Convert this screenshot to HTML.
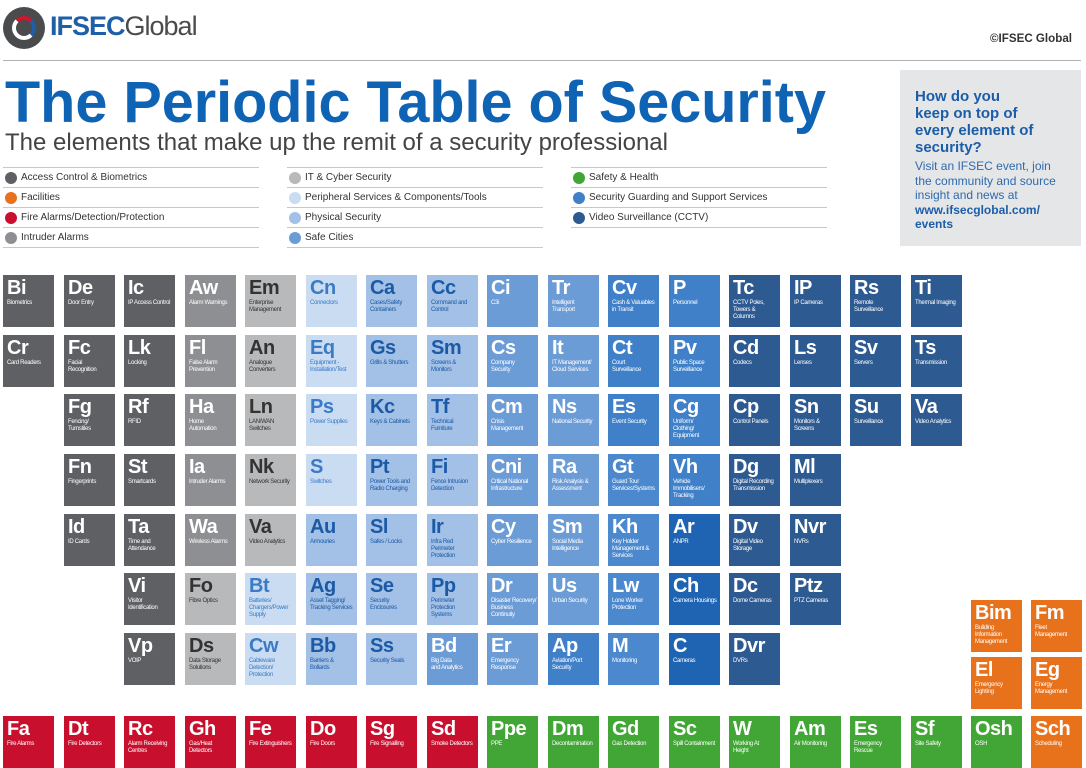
<!DOCTYPE html>
<html><head><meta charset="utf-8">
<style>
*{margin:0;padding:0;box-sizing:border-box}
body{width:1086px;height:768px;overflow:hidden;background:#fff;position:relative;font-family:"Liberation Sans",sans-serif}
.c{position:absolute;width:51px;height:52px;padding:3px 0 0 4px;color:#fff;overflow:hidden}
.c b{display:block;font-size:20px;line-height:20px;font-weight:bold;letter-spacing:-0.5px}
.c i{display:block;font-style:normal;font-size:6px;line-height:7px;margin-top:2px;letter-spacing:-0.3px;white-space:nowrap}
.a{background:#5f6063}.g{background:#8e8f92}.l{background:#b8b9bb;color:#333}
.p{background:#cadcf2;color:#3b7bc6}.h{background:#a3c0e6;color:#1a5aa6}
.s{background:#6c9cd6}.u{background:#3f80c9}.d{background:#1f64b3}.v{background:#2d5a91}
.r{background:#c8102e}.gr{background:#42a636}.o{background:#e8711c}
.lg{position:absolute;height:20px;border-bottom:1px solid #c8c8c8;font-size:10px;color:#333;line-height:20px;padding-left:18px}
.lg:before{content:"";position:absolute;left:2px;top:4px;width:12px;height:12px;border-radius:50%;background:var(--k)}
.lt{position:absolute;height:1px;background:#c8c8c8}
</style></head><body>

<div style="position:absolute;left:3px;top:7px;width:42px;height:42px;border-radius:50%;background:#4a4b4d"></div>
<div style="position:absolute;left:12px;top:16px;width:24px;height:24px;border-radius:50%;border:4px solid #fff;border-top-color:#d3142e;border-right-color:#1f5fa8"></div>
<div style="position:absolute;left:50px;top:10px;font-size:27px;line-height:32px;letter-spacing:-1px"><b style="color:#1f5fa8">IFSEC</b><span style="color:#4a4b4d">Global</span></div>
<svg style="position:absolute;left:0;top:0" width="1086" height="160">
<text x="990" y="42" font-family="Liberation Sans" font-weight="bold" font-size="11.5" fill="#333" textLength="82" lengthAdjust="spacingAndGlyphs">©IFSEC Global</text>
<text x="5" y="122" font-family="Liberation Sans" font-weight="bold" font-size="58" fill="#0e63b4" textLength="821" lengthAdjust="spacingAndGlyphs">The Periodic Table of Security</text>
<text x="5" y="150" font-family="Liberation Sans" font-size="24" fill="#444" textLength="663" lengthAdjust="spacingAndGlyphs">The elements that make up the remit of a security professional</text>
</svg>
<div class="lt" style="left:3px;top:60px;width:1078px;background:#b0b0b0"></div>

<div class="lt" style="left:3px;top:167px;width:256px"></div>
<div class="lt" style="left:287px;top:167px;width:256px"></div>
<div class="lt" style="left:571px;top:167px;width:256px"></div>
<div class="lg" style="--k:#5f6063;left:3px;top:168px;width:256px">Access Control &amp; Biometrics</div>
<div class="lg" style="--k:#e8711c;left:3px;top:188px;width:256px">Facilities</div>
<div class="lg" style="--k:#c8102e;left:3px;top:208px;width:256px">Fire Alarms/Detection/Protection</div>
<div class="lg" style="--k:#8e8f92;left:3px;top:228px;width:256px">Intruder Alarms</div>
<div class="lg" style="--k:#b8b9bb;left:287px;top:168px;width:256px">IT &amp; Cyber Security</div>
<div class="lg" style="--k:#cadcf2;left:287px;top:188px;width:256px">Peripheral Services &amp; Components/Tools</div>
<div class="lg" style="--k:#a3c0e6;left:287px;top:208px;width:256px">Physical Security</div>
<div class="lg" style="--k:#6c9cd6;left:287px;top:228px;width:256px">Safe Cities</div>
<div class="lg" style="--k:#42a636;left:571px;top:168px;width:256px">Safety &amp; Health</div>
<div class="lg" style="--k:#3f80c9;left:571px;top:188px;width:256px">Security Guarding and Support Services</div>
<div class="lg" style="--k:#2d5a91;left:571px;top:208px;width:256px">Video Surveillance (CCTV)</div>

<div style="position:absolute;left:900px;top:70px;width:181px;height:176px;background:#e5e6e8;padding:18px 0 0 15px">
<div style="font-weight:bold;font-size:15px;line-height:17px;color:#1c5da8">How do you<br>keep on top of<br>every element of<br>security?</div>
<div style="font-size:12px;line-height:14.5px;color:#2f6aad;margin-top:3px">Visit an IFSEC event, join<br>the community and source<br>insight and news at<br><b style="color:#1c5da8">www.ifsecglobal.com/<br>events</b></div>
</div>

<!-- col0 -->
<div class="c a" style="left:3px;top:275px"><b>Bi</b><i>Biometrics</i></div>
<div class="c a" style="left:3px;top:335px"><b>Cr</b><i>Card Readers</i></div>
<!-- col1 -->
<div class="c a" style="left:64px;top:275px"><b>De</b><i>Door Entry</i></div>
<div class="c a" style="left:64px;top:335px"><b>Fc</b><i>Facial<br>Recognition</i></div>
<div class="c a" style="left:64px;top:394px"><b>Fg</b><i>Fencing/<br>Turnstiles</i></div>
<div class="c a" style="left:64px;top:454px"><b>Fn</b><i>Fingerprints</i></div>
<div class="c a" style="left:64px;top:514px"><b>Id</b><i>ID Cards</i></div>
<!-- col2 -->
<div class="c a" style="left:124px;top:275px"><b>Ic</b><i>IP Access Control</i></div>
<div class="c a" style="left:124px;top:335px"><b>Lk</b><i>Locking</i></div>
<div class="c a" style="left:124px;top:394px"><b>Rf</b><i>RFID</i></div>
<div class="c a" style="left:124px;top:454px"><b>St</b><i>Smartcards</i></div>
<div class="c a" style="left:124px;top:514px"><b>Ta</b><i>Time and<br>Attendance</i></div>
<div class="c a" style="left:124px;top:573px"><b>Vi</b><i>Visitor<br>Identification</i></div>
<div class="c a" style="left:124px;top:633px"><b>Vp</b><i>VOIP</i></div>
<!-- col3 -->
<div class="c g" style="left:185px;top:275px"><b>Aw</b><i>Alarm Warnings</i></div>
<div class="c g" style="left:185px;top:335px"><b>Fl</b><i>False Alarm<br>Prevention</i></div>
<div class="c g" style="left:185px;top:394px"><b>Ha</b><i>Home<br>Automation</i></div>
<div class="c g" style="left:185px;top:454px"><b>Ia</b><i>Intruder Alarms</i></div>
<div class="c g" style="left:185px;top:514px"><b>Wa</b><i>Wireless Alarms</i></div>
<div class="c l" style="left:185px;top:573px"><b>Fo</b><i>Fibre Optics</i></div>
<div class="c l" style="left:185px;top:633px"><b>Ds</b><i>Data Storage<br>Solutions</i></div>
<!-- col4 -->
<div class="c l" style="left:245px;top:275px"><b>Em</b><i>Enterprise<br>Management</i></div>
<div class="c l" style="left:245px;top:335px"><b>An</b><i>Analogue<br>Converters</i></div>
<div class="c l" style="left:245px;top:394px"><b>Ln</b><i>LAN/WAN<br>Switches</i></div>
<div class="c l" style="left:245px;top:454px"><b>Nk</b><i>Network Security</i></div>
<div class="c l" style="left:245px;top:514px"><b>Va</b><i>Video Analytics</i></div>
<div class="c p" style="left:245px;top:573px"><b>Bt</b><i>Batteries/<br>Chargers/Power<br>Supply</i></div>
<div class="c p" style="left:245px;top:633px"><b>Cw</b><i>Cableware<br>Detection/<br>Protection</i></div>
<!-- col5 -->
<div class="c p" style="left:306px;top:275px"><b>Cn</b><i>Connectors</i></div>
<div class="c p" style="left:306px;top:335px"><b>Eq</b><i>Equipment -<br>Installation/Test</i></div>
<div class="c p" style="left:306px;top:394px"><b>Ps</b><i>Power Supplies</i></div>
<div class="c p" style="left:306px;top:454px"><b>S</b><i>Switches</i></div>
<div class="c h" style="left:306px;top:514px"><b>Au</b><i>Armouries</i></div>
<div class="c h" style="left:306px;top:573px"><b>Ag</b><i>Asset Tagging/<br>Tracking Services</i></div>
<div class="c h" style="left:306px;top:633px"><b>Bb</b><i>Barriers &amp;<br>Bollards</i></div>
<!-- col6 -->
<div class="c h" style="left:366px;top:275px"><b>Ca</b><i>Cases/Safety<br>Containers</i></div>
<div class="c h" style="left:366px;top:335px"><b>Gs</b><i>Grills &amp; Shutters</i></div>
<div class="c h" style="left:366px;top:394px"><b>Kc</b><i>Keys &amp; Cabinets</i></div>
<div class="c h" style="left:366px;top:454px"><b>Pt</b><i>Power Tools and<br>Radio Charging</i></div>
<div class="c h" style="left:366px;top:514px"><b>Sl</b><i>Safes / Locks</i></div>
<div class="c h" style="left:366px;top:573px"><b>Se</b><i>Security<br>Enclosures</i></div>
<div class="c h" style="left:366px;top:633px"><b>Ss</b><i>Security Seals</i></div>
<!-- col7 -->
<div class="c h" style="left:427px;top:275px"><b>Cc</b><i>Command and<br>Control</i></div>
<div class="c h" style="left:427px;top:335px"><b>Sm</b><i>Screens &amp;<br>Monitors</i></div>
<div class="c h" style="left:427px;top:394px"><b>Tf</b><i>Technical<br>Furniture</i></div>
<div class="c h" style="left:427px;top:454px"><b>Fi</b><i>Fence Intrusion<br>Detection</i></div>
<div class="c h" style="left:427px;top:514px"><b>Ir</b><i>Infra Red<br>Perimeter<br>Protection</i></div>
<div class="c h" style="left:427px;top:573px"><b>Pp</b><i>Perimeter<br>Protection<br>Systems</i></div>
<div class="c s" style="left:427px;top:633px"><b>Bd</b><i>Big Data<br>and Analytics</i></div>
<!-- col8 -->
<div class="c s" style="left:487px;top:275px"><b>Ci</b><i>C3i</i></div>
<div class="c s" style="left:487px;top:335px"><b>Cs</b><i>Company<br>Security</i></div>
<div class="c s" style="left:487px;top:394px"><b>Cm</b><i>Crisis<br>Management</i></div>
<div class="c s" style="left:487px;top:454px"><b>Cni</b><i>Critical National<br>Infrastructure</i></div>
<div class="c s" style="left:487px;top:514px"><b>Cy</b><i>Cyber Resilience</i></div>
<div class="c s" style="left:487px;top:573px"><b>Dr</b><i>Disaster Recovery/<br>Business<br>Continuity</i></div>
<div class="c s" style="left:487px;top:633px"><b>Er</b><i>Emergency<br>Response</i></div>
<!-- col9 -->
<div class="c s" style="left:548px;top:275px"><b>Tr</b><i>Intelligent<br>Transport</i></div>
<div class="c s" style="left:548px;top:335px"><b>It</b><i>IT Management/<br>Cloud Services</i></div>
<div class="c s" style="left:548px;top:394px"><b>Ns</b><i>National Security</i></div>
<div class="c s" style="left:548px;top:454px"><b>Ra</b><i>Risk Analysis &amp;<br>Assessment</i></div>
<div class="c s" style="left:548px;top:514px"><b>Sm</b><i>Social Media<br>Intelligence</i></div>
<div class="c s" style="left:548px;top:573px"><b>Us</b><i>Urban Security</i></div>
<div class="c u" style="left:548px;top:633px"><b>Ap</b><i>Aviation/Port<br>Security</i></div>
<!-- col10 -->
<div class="c u" style="left:608px;top:275px"><b>Cv</b><i>Cash &amp; Valuables<br>in Transit</i></div>
<div class="c u" style="left:608px;top:335px"><b>Ct</b><i>Court<br>Surveillance</i></div>
<div class="c u" style="left:608px;top:394px"><b>Es</b><i>Event Security</i></div>
<div class="c u" style="left:608px;top:454px;background:#4b88cd"><b>Gt</b><i>Guard Tour<br>Services/Systems</i></div>
<div class="c u" style="left:608px;top:514px;background:#4b88cd"><b>Kh</b><i>Key Holder<br>Management &amp;<br>Services</i></div>
<div class="c u" style="left:608px;top:573px;background:#4b88cd"><b>Lw</b><i>Lone Worker<br>Protection</i></div>
<div class="c u" style="left:608px;top:633px;background:#4b88cd"><b>M</b><i>Monitoring</i></div>
<!-- col11 -->
<div class="c u" style="left:669px;top:275px"><b>P</b><i>Personnel</i></div>
<div class="c u" style="left:669px;top:335px"><b>Pv</b><i>Public Space<br>Surveillance</i></div>
<div class="c u" style="left:669px;top:394px"><b>Cg</b><i>Uniform/<br>Clothing/<br>Equipment</i></div>
<div class="c u" style="left:669px;top:454px"><b>Vh</b><i>Vehicle<br>Immobilisers/<br>Tracking</i></div>
<div class="c d" style="left:669px;top:514px"><b>Ar</b><i>ANPR</i></div>
<div class="c d" style="left:669px;top:573px"><b>Ch</b><i>Camera Housings</i></div>
<div class="c d" style="left:669px;top:633px"><b>C</b><i>Cameras</i></div>
<!-- col12 -->
<div class="c v" style="left:729px;top:275px"><b>Tc</b><i>CCTV Poles,<br>Towers &amp;<br>Columns</i></div>
<div class="c v" style="left:729px;top:335px"><b>Cd</b><i>Codecs</i></div>
<div class="c v" style="left:729px;top:394px"><b>Cp</b><i>Control Panels</i></div>
<div class="c v" style="left:729px;top:454px"><b>Dg</b><i>Digital Recording<br>Transmission</i></div>
<div class="c v" style="left:729px;top:514px"><b>Dv</b><i>Digital Video<br>Storage</i></div>
<div class="c v" style="left:729px;top:573px"><b>Dc</b><i>Dome Cameras</i></div>
<div class="c v" style="left:729px;top:633px"><b>Dvr</b><i>DVRs</i></div>
<!-- col13 -->
<div class="c v" style="left:790px;top:275px"><b>IP</b><i>IP Cameras</i></div>
<div class="c v" style="left:790px;top:335px"><b>Ls</b><i>Lenses</i></div>
<div class="c v" style="left:790px;top:394px"><b>Sn</b><i>Monitors &amp;<br>Screens</i></div>
<div class="c v" style="left:790px;top:454px"><b>Ml</b><i>Multiplexers</i></div>
<div class="c v" style="left:790px;top:514px"><b>Nvr</b><i>NVRs</i></div>
<div class="c v" style="left:790px;top:573px"><b>Ptz</b><i>PTZ Cameras</i></div>
<!-- col14 -->
<div class="c v" style="left:850px;top:275px"><b>Rs</b><i>Remote<br>Surveillance</i></div>
<div class="c v" style="left:850px;top:335px"><b>Sv</b><i>Servers</i></div>
<div class="c v" style="left:850px;top:394px"><b>Su</b><i>Surveillance</i></div>
<!-- col15 -->
<div class="c v" style="left:911px;top:275px"><b>Ti</b><i>Thermal Imaging</i></div>
<div class="c v" style="left:911px;top:335px"><b>Ts</b><i>Transmission</i></div>
<div class="c v" style="left:911px;top:394px"><b>Va</b><i>Video Analytics</i></div>
<!-- orange -->
<div class="c o" style="left:971px;top:600px"><b>Bim</b><i>Building<br>Information<br>Management</i></div>
<div class="c o" style="left:1031px;top:600px"><b>Fm</b><i>Fleet<br>Management</i></div>
<div class="c o" style="left:971px;top:657px"><b>El</b><i>Emergency<br>Lighting</i></div>
<div class="c o" style="left:1031px;top:657px"><b>Eg</b><i>Energy<br>Management</i></div>
<!-- bottom row -->
<div class="c r" style="left:3px;top:716px"><b>Fa</b><i>Fire Alarms</i></div>
<div class="c r" style="left:64px;top:716px"><b>Dt</b><i>Fire Detectors</i></div>
<div class="c r" style="left:124px;top:716px"><b>Rc</b><i>Alarm Receiving<br>Centres</i></div>
<div class="c r" style="left:185px;top:716px"><b>Gh</b><i>Gas/Heat<br>Detectors</i></div>
<div class="c r" style="left:245px;top:716px"><b>Fe</b><i>Fire Extinguishers</i></div>
<div class="c r" style="left:306px;top:716px"><b>Do</b><i>Fire Doors</i></div>
<div class="c r" style="left:366px;top:716px"><b>Sg</b><i>Fire Signalling</i></div>
<div class="c r" style="left:427px;top:716px"><b>Sd</b><i>Smoke Detectors</i></div>
<div class="c gr" style="left:487px;top:716px"><b>Ppe</b><i>PPE</i></div>
<div class="c gr" style="left:548px;top:716px"><b>Dm</b><i>Decontamination</i></div>
<div class="c gr" style="left:608px;top:716px"><b>Gd</b><i>Gas Detection</i></div>
<div class="c gr" style="left:669px;top:716px"><b>Sc</b><i>Spill Containment</i></div>
<div class="c gr" style="left:729px;top:716px"><b>W</b><i>Working At<br>Height</i></div>
<div class="c gr" style="left:790px;top:716px"><b>Am</b><i>Air Monitoring</i></div>
<div class="c gr" style="left:850px;top:716px"><b>Es</b><i>Emergency<br>Rescue</i></div>
<div class="c gr" style="left:911px;top:716px"><b>Sf</b><i>Site Safety</i></div>
<div class="c gr" style="left:971px;top:716px"><b>Osh</b><i>OSH</i></div>
<div class="c o" style="left:1031px;top:716px"><b>Sch</b><i>Scheduling</i></div>
</body></html>
